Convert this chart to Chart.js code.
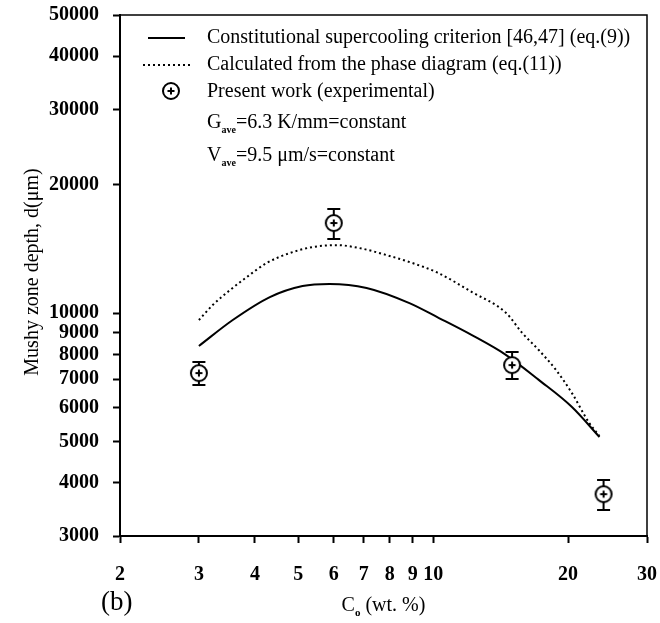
<!DOCTYPE html>
<html>
<head>
<meta charset="utf-8">
<script src="https://cdn.jsdelivr.net/npm/chart.js@4"></script>
<style>
  body { margin: 0; background: #fff; }
</style>
</head>
<body>
<canvas id="chart" width="660" height="623"></canvas>
<script>
// --- data ---
const xTicks = [2, 3, 4, 5, 6, 7, 8, 9, 10, 20, 30];
const yTicks = [3000, 4000, 5000, 6000, 7000, 8000, 9000, 10000, 20000, 30000, 40000, 50000];

// constitutional supercooling criterion (eq.9)
const solidX = [3.0, 3.57, 4.32, 5.11, 5.87, 7.10, 8.85, 10.3, 12.2, 14.55, 17.2, 20.4, 23.5];
const solidY = [8370, 9630, 10900, 11570, 11700, 11450, 10550, 9735, 8875, 7970, 6970, 6020, 5120];

// calculated from the phase diagram (eq.11)
const dottedX = [3.0, 3.22, 3.52, 3.84, 4.25, 4.78, 5.38, 6.09, 6.85, 7.86, 8.99, 10.2, 12.2, 14.55, 15.8, 17.2, 18.8, 20.4, 22.3, 23.5];
const dottedY = [9630, 10440, 11320, 12150, 13100, 13820, 14280, 14430, 14200, 13680, 13100, 12450, 11200, 10000, 8980, 8190, 7350, 6490, 5520, 5150];

// present work (experimental)
const expX = [3, 6, 15, 24];
const expY = [7230, 16260, 7550, 3760];
const expHigh = [7680, 17530, 8100, 4060];
const expLow = [6780, 14910, 7000, 3450];

const legendLabels = [
  'Constitutional supercooling criterion [46,47] (eq.(9))',
  'Calculated from the phase diagram (eq.(11))',
  'Present work (experimental)'
];

const serif = '"Liberation Serif", "Times New Roman", serif';

// marker: open circle with a plus inside
const marker = document.createElement('canvas');
marker.width = 20;
marker.height = 20;
(function () {
  const c = marker.getContext('2d');
  c.fillStyle = '#fff';
  c.strokeStyle = '#000';
  c.lineWidth = 2;
  c.beginPath();
  c.arc(10, 10, 8, 0, Math.PI * 2);
  c.fill();
  c.stroke();
  c.beginPath();
  c.moveTo(6.5, 10); c.lineTo(13.5, 10);
  c.moveTo(10, 6.5); c.lineTo(10, 13.5);
  c.stroke();
})();

function pts(xs, ys) {
  return xs.map((x, i) => ({ x: x, y: ys[i] }));
}

// error bars, frame, legend and axis titles
const extras = {
  id: 'extras',
  beforeDatasetsDraw(chart) {
    const ctx = chart.ctx;
    const xs = chart.scales.x, ys = chart.scales.y;
    ctx.save();
    ctx.strokeStyle = '#000';
    ctx.lineWidth = 2;
    expX.forEach((v, i) => {
      const px = xs.getPixelForValue(v);
      const hi = ys.getPixelForValue(expHigh[i]);
      const lo = ys.getPixelForValue(expLow[i]);
      ctx.beginPath();
      ctx.moveTo(px, hi); ctx.lineTo(px, lo);
      ctx.moveTo(px - 6.5, hi); ctx.lineTo(px + 6.5, hi);
      ctx.moveTo(px - 6.5, lo); ctx.lineTo(px + 6.5, lo);
      ctx.stroke();
    });
    ctx.restore();
  },
  afterDraw(chart) {
    const ctx = chart.ctx;
    const a = chart.chartArea;
    ctx.save();
    ctx.strokeStyle = '#000';
    ctx.lineWidth = 1.5;
    ctx.beginPath();
    ctx.moveTo(a.left, a.top); ctx.lineTo(a.right, a.top); ctx.lineTo(a.right, a.bottom);
    ctx.stroke();

    // legend
    ctx.fillStyle = '#000';
    ctx.textBaseline = 'middle';
    ctx.textAlign = 'left';
    ctx.font = '20px ' + serif;
    ctx.lineWidth = 2;
    ctx.beginPath();
    ctx.moveTo(148, 38); ctx.lineTo(185, 38);
    ctx.stroke();
    ctx.setLineDash([2, 3]);
    ctx.beginPath();
    ctx.moveTo(143, 65); ctx.lineTo(193, 65);
    ctx.stroke();
    ctx.setLineDash([]);
    ctx.drawImage(marker, 171 - 10, 91 - 10);
    ctx.fillText(legendLabels[0], 207, 38);
    ctx.fillText(legendLabels[1], 207, 65);
    ctx.fillText(legendLabels[2], 207, 92);

    function subText(main, sub, rest, x, y) {
      ctx.font = '20px ' + serif;
      ctx.fillText(main, x, y);
      x += ctx.measureText(main).width;
      ctx.font = 'bold 10px ' + serif;
      ctx.fillText(sub, x, y + 7);
      x += ctx.measureText(sub).width;
      ctx.font = '20px ' + serif;
      ctx.fillText(rest, x, y);
    }
    subText('G', 'ave', '=6.3 K/mm=constant', 207, 123);
    subText('V', 'ave', '=9.5 \u03bcm/s=constant', 207, 156);

    // x title with subscript
    ctx.font = '20px ' + serif;
    const w1 = ctx.measureText('C').width;
    ctx.font = 'bold 11px ' + serif;
    const w2 = ctx.measureText('o').width;
    ctx.font = '20px ' + serif;
    const w3 = ctx.measureText(' (wt. %)').width;
    let tx = (a.left + a.right) / 2 - (w1 + w2 + w3) / 2;
    const ty = 606;
    ctx.fillText('C', tx, ty);
    ctx.font = 'bold 11px ' + serif;
    ctx.fillText('o', tx + w1, ty + 7);
    ctx.font = '20px ' + serif;
    ctx.fillText(' (wt. %)', tx + w1 + w2, ty);

    // panel label
    ctx.font = '27px ' + serif;
    ctx.fillText('(b)', 101, 603);

    // y title
    ctx.translate(33, 272);
    ctx.rotate(-Math.PI / 2);
    ctx.textAlign = 'center';
    ctx.font = '20px ' + serif;
    ctx.fillText('Mushy zone depth, d(\u03bcm)', 0, 0);
    ctx.restore();
  }
};

const tickFont = { family: serif, size: 20, weight: 'bold' };

new Chart(document.getElementById('chart'), {
  type: 'scatter',
  data: {
    datasets: [
      {
        label: legendLabels[2],
        data: pts(expX, expY),
        pointStyle: marker,
        pointRadius: 10,
        showLine: false
      },
      {
        label: legendLabels[0],
        data: pts(solidX, solidY),
        showLine: true,
        borderColor: '#000',
        borderWidth: 2,
        pointRadius: 0,
        cubicInterpolationMode: 'monotone'
      },
      {
        label: legendLabels[1],
        data: pts(dottedX, dottedY),
        showLine: true,
        borderColor: '#000',
        borderWidth: 2,
        borderDash: [2, 3],
        pointRadius: 0,
        cubicInterpolationMode: 'monotone'
      }
    ]
  },
  options: {
    responsive: false,
    animation: false,
    layout: { padding: { left: 0, top: 15, right: 13, bottom: 0 } },
    plugins: {
      legend: { display: false },
      tooltip: { enabled: false }
    },
    scales: {
      x: {
        type: 'logarithmic',
        min: 2,
        max: 30,
        afterBuildTicks: s => { s.ticks = xTicks.map(v => ({ value: v })); },
        afterFit: s => { s.height = 87; s.paddingLeft = 0; s.paddingRight = 0; },
        ticks: {
          autoSkip: false,
          maxRotation: 0,
          color: '#000',
          font: tickFont,
          padding: 20,
          callback: v => String(v)
        },
        grid: { display: true, drawOnChartArea: false, tickLength: 7, tickWidth: 2, tickColor: '#000' },
        border: { display: true, color: '#000', width: 2 }
      },
      y: {
        type: 'logarithmic',
        min: 3000,
        max: 50000,
        afterBuildTicks: s => { s.ticks = yTicks.map(v => ({ value: v })); },
        afterFit: s => { s.width = 120; s.paddingTop = 0; s.paddingBottom = 0; },
        ticks: {
          autoSkip: false,
          color: '#000',
          font: tickFont,
          padding: 14,
          callback: v => String(v)
        },
        grid: { display: true, drawOnChartArea: false, tickLength: 7, tickWidth: 2, tickColor: '#000' },
        border: { display: true, color: '#000', width: 2 }
      }
    }
  },
  plugins: [extras]
});
</script>
</body>
</html>
